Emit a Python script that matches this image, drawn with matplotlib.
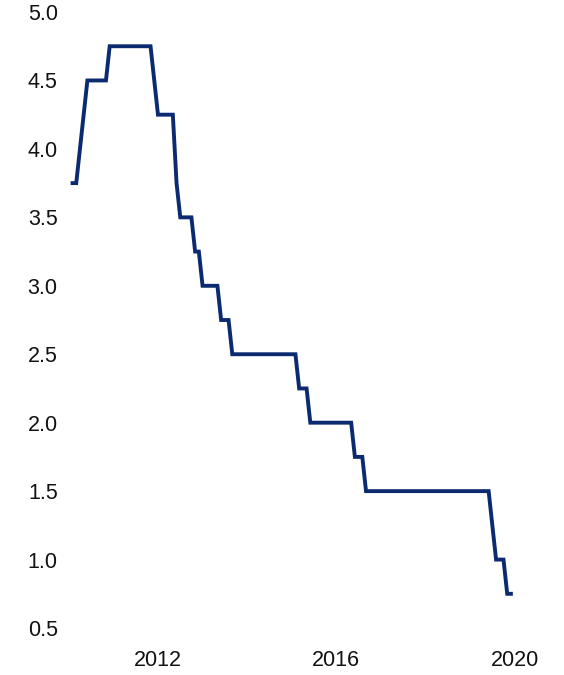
import numpy as np
import matplotlib.pyplot as plt

plt.rcParams['font.family'] = ['Liberation Sans', 'DejaVu Sans']

# monthly cash rate, month-end, Jan 2010 .. Nov 2019
rate_2010 = [3.75, 3.75, 4.0, 4.25, 4.5, 4.5, 4.5, 4.5, 4.5, 4.5, 4.75, 4.75]
rate_2011 = [4.75, 4.75, 4.75, 4.75, 4.75, 4.75, 4.75, 4.75, 4.75, 4.75, 4.5, 4.25]
rate_2012 = [4.25, 4.25, 4.25, 4.25, 3.75, 3.5, 3.5, 3.5, 3.5, 3.25, 3.25, 3.0]
rate_2013 = [3.0, 3.0, 3.0, 3.0, 2.75, 2.75, 2.75, 2.5, 2.5, 2.5, 2.5, 2.5]
rate_2014 = [2.5] * 12
rate_2015 = [2.5, 2.25, 2.25, 2.25, 2.0, 2.0, 2.0, 2.0, 2.0, 2.0, 2.0, 2.0]
rate_2016 = [2.0, 2.0, 2.0, 2.0, 1.75, 1.75, 1.75, 1.5, 1.5, 1.5, 1.5, 1.5]
rate_2017 = [1.5] * 12
rate_2018 = [1.5] * 12
rate_2019 = [1.5, 1.5, 1.5, 1.5, 1.5, 1.25, 1.0, 1.0, 1.0, 0.75, 0.75]

rates = (rate_2010 + rate_2011 + rate_2012 + rate_2013 + rate_2014 +
         rate_2015 + rate_2016 + rate_2017 + rate_2018 + rate_2019)
# month-end dates as decimal years
dates = 2010 + (np.arange(len(rates)) + 1) / 12.0

fig = plt.figure(figsize=(5.64, 6.75), dpi=100)
ax = fig.add_axes([0.122, 0.0696, 0.830, 0.9126])
ax.plot(dates, rates, color='#0B2A6F', lw=2.8, solid_joinstyle='miter')

ax.set_xlim(2010, 2020.5)
ax.set_ylim(0.5, 5.0)
ax.set_xticks([2012, 2016, 2020])
ax.set_yticks(np.arange(0.5, 5.01, 0.5))
ax.set_yticklabels(['%.1f' % v for v in np.arange(0.5, 5.01, 0.5)])
ax.tick_params(length=0, labelsize=15.5, colors='#111111')
ax.tick_params(axis='x', pad=16)
ax.tick_params(axis='y', pad=8)
for s in ax.spines.values():
    s.set_visible(False)

fig.savefig('out.png', dpi=100)
